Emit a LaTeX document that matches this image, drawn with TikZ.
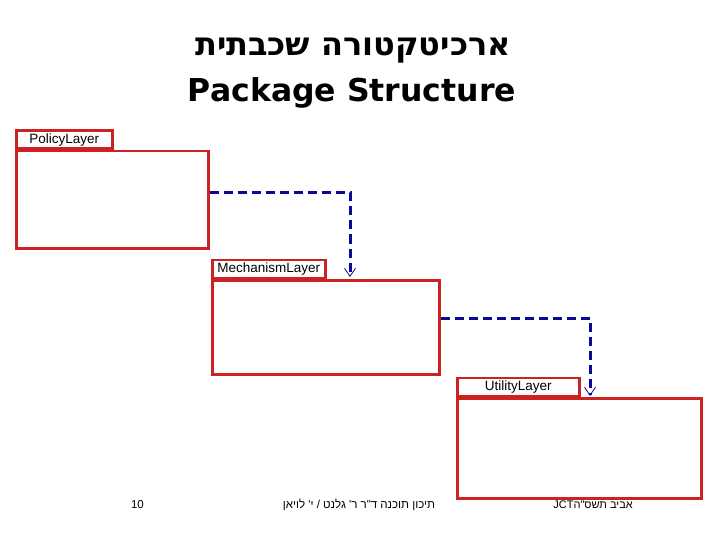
\documentclass[tikz,border=0pt]{standalone}
\usepackage{fontspec}
\setmainfont{Liberation Sans}
\newfontfamily\hebfont[Script=Hebrew]{Liberation Sans}
\newfontfamily\hebtitle[Script=Hebrew]{DejaVu Sans}
\newfontfamily\titlefont{DejaVu Sans}
\TeXXeTstate=1
\usetikzlibrary{arrows.meta}
\definecolor{boxred}{RGB}{204,34,34}
\definecolor{depblue}{RGB}{10,10,150}
\tikzset{
  pkgbody/.style={draw=boxred, line width=2.5pt, fill=white, inner sep=0pt, anchor=north west},
  pkgtab/.style={draw=boxred, line width=2.5pt, fill=white, inner sep=0pt, anchor=south west, font=\fontsize{13.5}{15}\selectfont},
  dep/.style={draw=depblue, line width=3pt, dash pattern=on 9pt off 5pt,
    -{Straight Barb[length=8pt,width=11pt,line width=0.8pt,open]}},
  foot/.style={font=\hebfont\fontsize{11.5}{13}\selectfont, inner sep=0pt}
}
\begin{document}
\begin{tikzpicture}[x=1pt,y=-1pt]
\useasboundingbox[fill=white] (0,0) rectangle (720,540);
% titles
\node[font=\hebtitle\bfseries\fontsize{32}{36}\selectfont, inner sep=0pt] (t1) at (353,50) {\beginR ארכיטקטורה שכבתית\endR};
\node[font=\titlefont\bfseries\fontsize{31.5}{36}\selectfont, inner sep=0pt] (t2) at (352,93) {Package Structure};
% packages
\node[pkgbody, minimum width=192pt, minimum height=97pt] (pol) at (15,150) {};
\node[pkgtab, minimum width=96pt, minimum height=18pt] (polt) at (pol.north west) {PolicyLayer};
\node[pkgbody, minimum width=227pt, minimum height=94pt] (mech) at (211,279) {};
\node[pkgtab, minimum width=113pt, minimum height=18pt] (mecht) at (mech.north west) {MechanismLayer};
\node[pkgbody, minimum width=244pt, minimum height=100pt] (util) at (456,397) {};
\node[pkgtab, minimum width=122pt, minimum height=18pt] (utilt) at (util.north west) {UtilityLayer};
% dependencies
\coordinate (m1) at (350,277);
\coordinate (u1) at (590,396);
\draw[dep] (pol.east |- 0,193) -| (m1);
\draw[dep] (mech.east |- 0,318) -| (u1);
% footer
\node[foot] (f1) at (137.5,505) {10};
\node[foot] (f2) at (359,505) {\beginR תיכון תוכנה ד"ר ר' גלנט / י' לויאן\endR};
\node[foot, anchor=east, font=\hebfont\fontsize{11}{13}\selectfont] (f3) at (633,505) {\beginR אביב תשס"ה\beginL JCT\endL\endR};
\end{tikzpicture}
\end{document}
